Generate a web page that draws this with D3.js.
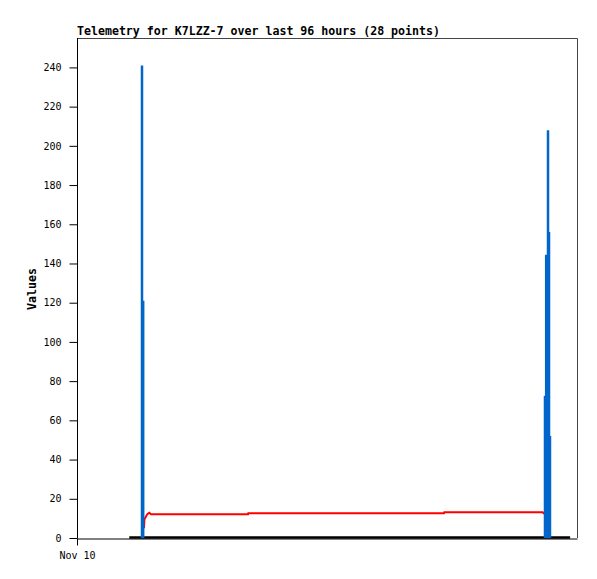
<!DOCTYPE html>
<html lang="en">
  <head>
    <meta charset="utf-8">
    <title>Telemetry</title>
    <script type="text/javascript" src="https://cdn.jsdelivr.net/npm/d3@7"></script>
    <style>
      body { margin: 0; background: #fff; }
    </style>
  </head>
  <body>
    <script type="text/javascript">
      // Data: times are hours after Nov 10 00:00
      var titleText = "Telemetry for K7LZZ-7 over last 96 hours (28 points)";
      var yLabel = "Values";
      var yTicks = [0, 20, 40, 60, 80, 100, 120, 140, 160, 180, 200, 220, 240];

      var blueHours = [14.17, 14.43, 102.02, 102.28, 102.68, 102.90, 103.11];
      var blueValues = [241, 121, 72.5, 144.5, 208, 156, 52];

      var redHours = [14.61, 14.71, 15.33, 15.76, 16.13, 37.28, 37.34, 80.0, 80.07, 101.52, 101.70, 102.2];
      var redValues = [5.0, 9.6, 12.2, 12.9, 12.1, 12.1, 12.6, 12.6, 13.1, 13.1, 12.6, 12.6];

      var zeroHours = [11.4, 107.5];
      var zeroValues = [0, 0];

      var startDate = new Date(2023, 10, 10, 0, 0);
      var endDate = new Date(2023, 10, 14, 13, 0);
      var toDate = function(h) { return new Date(startDate.getTime() + h * 3600000); };

      // Set plot area
      var width = 597, height = 579;
      var margin = {top: 38, right: 20, bottom: 41, left: 77};

      var svg = d3.select("body").append("svg")
                  .attr("width", width)
                  .attr("height", height);

      var x = d3.scaleTime()
                .domain([startDate, endDate])
                .range([margin.left, width - margin.right]);
      var y = d3.scaleLinear()
                .domain([0, 255])
                .range([height - margin.bottom, margin.top]);

      // Frame (top and right in grey)
      svg.append("path")
         .attr("d", "M" + margin.left + "," + (margin.top + 0.5) + "H" + (width - margin.right + 0.5) + "V" + (height - margin.bottom))
         .attr("fill", "none")
         .attr("stroke", "#444")
         .attr("stroke-width", 1);

      // Title
      svg.append("text")
         .attr("x", margin.left)
         .attr("y", 34.5)
         .attr("font-family", "DejaVu Sans Mono")
         .attr("font-weight", "bold")
         .attr("font-size", "11.6px")
         .attr("fill", "#000")
         .text(titleText);

      // Y axis label
      svg.append("text")
         .attr("transform", "translate(35.5," + 289 + ") rotate(-90)")
         .attr("text-anchor", "middle")
         .attr("font-family", "DejaVu Sans Mono")
         .attr("font-weight", "bold")
         .attr("font-size", "11.6px")
         .attr("fill", "#000")
         .text(yLabel);

      // Series of zeros (black)
      var zeroData = zeroHours.map(function(h, i) { return {t: toDate(h), v: zeroValues[i]}; });
      svg.append("path")
         .datum(zeroData)
         .attr("fill", "none")
         .attr("stroke", "#000")
         .attr("stroke-width", 2.5)
         .attr("d", d3.line()
                      .x(function(d) { return x(d.t); })
                      .y(function(d) { return y(d.v) - 0.5; }));

      // Red series
      var redData = redHours.map(function(h, i) { return {t: toDate(h), v: redValues[i]}; });
      svg.append("path")
         .datum(redData)
         .attr("fill", "none")
         .attr("stroke", "#ff0000")
         .attr("stroke-width", 2)
         .attr("d", d3.line()
                      .x(function(d) { return x(d.t); })
                      .y(function(d) { return y(d.v); }));

      // Blue impulses
      var blueData = blueHours.map(function(h, i) { return {t: toDate(h), v: blueValues[i]}; });
      svg.selectAll("line.impulse")
         .data(blueData)
         .enter()
         .append("line")
         .attr("class", "impulse")
         .attr("x1", function(d) { return x(d.t); })
         .attr("x2", function(d) { return x(d.t); })
         .attr("y1", y(0))
         .attr("y2", function(d) { return y(d.v); })
         .attr("stroke", "#0066cc")
         .attr("stroke-width", 2.5);

      // Axes
      var yAxis = svg.append("g")
                     .attr("transform", "translate(" + (margin.left + 0.5) + ",0)")
                     .call(d3.axisLeft(y).tickValues(yTicks).tickSize(8).tickPadding(8).tickSizeOuter(0));
      var xAxis = svg.append("g")
                     .attr("transform", "translate(0," + (height - margin.bottom + 0.5) + ")")
                     .call(d3.axisBottom(x).tickValues([startDate]).tickFormat(d3.timeFormat("%b %d")).tickSize(7).tickPadding(6).tickSizeOuter(0));

      [yAxis, xAxis].forEach(function(g) {
        g.selectAll("text")
         .attr("font-family", "DejaVu Sans Mono")
         .attr("font-size", "10px")
         .attr("fill", "#000");
        g.selectAll("line, path").attr("stroke", "#000");
      });
      yAxis.select(".domain").attr("d", "M0," + margin.top + "V" + (height - margin.bottom));
    </script>
  </body>
</html>
